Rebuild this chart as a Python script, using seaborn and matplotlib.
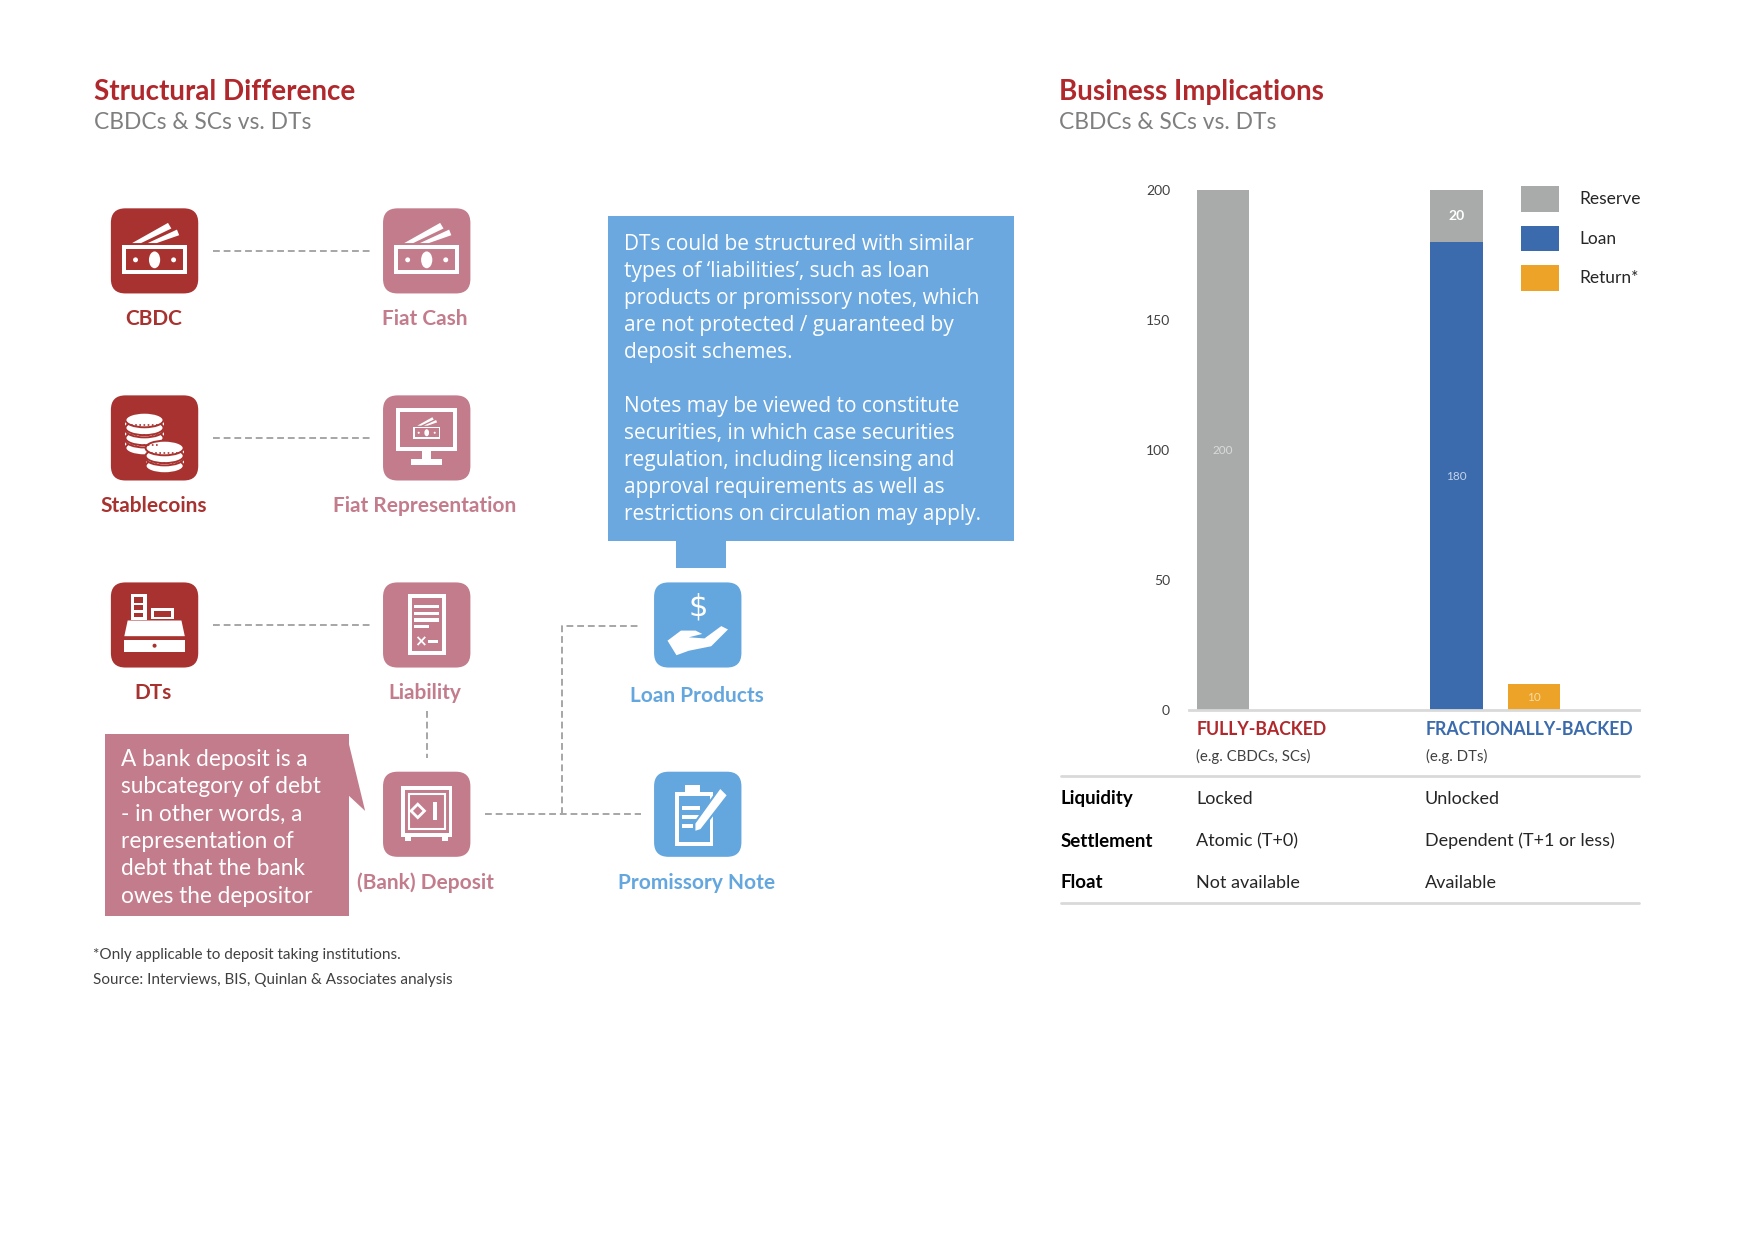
import numpy as np
import pandas as pd
import seaborn as sns
import matplotlib.pyplot as plt
from matplotlib.patches import FancyBboxPatch, Rectangle, Ellipse, Polygon, Circle, Patch

# ---- chart data ----
categories = ["FULLY-BACKED", "FRACTIONALLY-BACKED"]
category_notes = ["(e.g. CBDCs, SCs)", "(e.g. DTs)"]
reserve = [200, 20]
loan = [0, 180]
ret = [0, 10]
legend_labels = ["Reserve", "Loan", "Return*"]
y_ticks = [0, 50, 100, 150, 200]

row_names = ["Liquidity", "Settlement", "Float"]
fully_values = ["Locked", "Atomic (T+0)", "Not available"]
fraction_values = ["Unlocked", "Dependent (T+1 or less)", "Available"]

# ---- diagram text ----
left_nodes = ["CBDC", "Stablecoins", "DTs"]
mid_nodes = ["Fiat Cash", "Fiat Representation", "Liability"]
blue_note = ["DTs could be structured with similar",
             "types of \u2018liabilities\u2019, such as loan",
             "products or promissory notes, which",
             "are not protected / guaranteed by",
             "deposit schemes.",
             "",
             "Notes may be viewed to constitute",
             "securities, in which case securities",
             "regulation, including licensing and",
             "approval requirements as well as",
             "restrictions on circulation may apply."]
pink_note = ["A bank deposit is a", "subcategory of debt", "- in other words, a",
             "representation of", "debt that the bank", "owes the depositor"]
footnotes = ["*Only applicable to deposit taking institutions.",
             "Source: Interviews, BIS, Quinlan & Associates analysis"]

RED = "#A83230"
PINK = "#C27C8C"
BLUE = "#64A6DE"
GREY_BAR = "#A9ABAA"
LOAN_BLUE = "#3B6BAC"
ORANGE = "#ECA328"
DASH = "#A6A6A6"
DARK = "#262626"
FW, FH = 1567, 1108  # layout frame (figure = 1755 x 1241 px)

sns.set_style("white")
plt.rcParams["font.family"] = ["Lato", "DejaVu Sans"]

fig = plt.figure(figsize=(17.55, 12.41), dpi=100)
bg = fig.add_axes([0, 0, 1, 1])
bg.set_xlim(0, FW)
bg.set_ylim(FH, 0)
bg.axis("off")


def txt(x, y, s, **kw):
    kw.setdefault("va", "center")
    bg.text(x, y + 2, s, **kw)


def rbox(cx, cy, c):
    bg.add_patch(FancyBboxPatch((cx - 39, cy - 38), 78, 76,
                                boxstyle="round,pad=0,rounding_size=13", fc=c, ec="none"))


def frame(x0, y0, x1, y1, c, t=3.5):
    bg.add_patch(Rectangle((x0, y0), x1 - x0, y1 - y0, fc="white", ec="none"))
    bg.add_patch(Rectangle((x0 + t, y0 + t), x1 - x0 - 2 * t, y1 - y0 - 2 * t, fc=c, ec="none"))


def wbar(x, y, w, h):
    bg.add_patch(Rectangle((x, y), w, h, fc="white", ec="none"))


def banknote(cx, cy, c, s=1.0):
    P = lambda x, y: (cx + x * s, cy + y * s)
    bg.add_patch(Polygon([P(-20, -7), P(12, -25), P(15, -20), P(-12, -7)], fc="white", ec="none"))
    bg.add_patch(Polygon([P(-6, -7), P(20, -19), P(22, -14), P(2, -7)], fc="white", ec="none"))
    frame(cx - 29 * s, cy - 5 * s, cx + 29 * s, cy + 21 * s, c, 3.5 * s)
    bg.add_patch(Ellipse(P(0, 8), 10 * s, 15 * s, fc="white", ec="none"))
    bg.add_patch(Circle(P(-17, 8), 2.2 * s, fc="white", ec="none"))
    bg.add_patch(Circle(P(17, 8), 2.2 * s, fc="white", ec="none"))


def coins(cx, cy, c):
    for x, y in [(-9, 2), (-9, -7), (-9, -16), (9, 18), (9, 9)]:
        bg.add_patch(Rectangle((cx + x - 17, cy + y), 34, 7, fc="white", ec="none"))
        bg.add_patch(Ellipse((cx + x, cy + y + 7), 34, 13, fc="white", ec=c, lw=1.4))
        bg.add_patch(Ellipse((cx + x, cy + y), 34, 13, fc="white", ec=c, lw=1.4))
        bg.plot([cx + x - 12, cx + x + 12], [cy + y + 4.5] * 2, color=c, lw=1.2, ls=(0, (1, 1.5)))


def monitor(cx, cy, c):
    frame(cx - 27, cy - 27, cx + 27, cy + 12, c, 3.5)
    banknote(cx, cy - 8, c, 0.42)
    wbar(cx - 4, cy + 12, 8, 8)
    wbar(cx - 14, cy + 19, 28, 5)


def register(cx, cy, c):
    frame(cx - 21, cy - 28, cx - 7, cy - 4, c, 3)
    wbar(cx - 21, cy - 20, 14, 2.5)
    wbar(cx - 21, cy - 13, 14, 2.5)
    frame(cx - 3, cy - 15, cx + 17, cy - 5, c, 2.5)
    bg.add_patch(Polygon([(cx - 24, cy - 4), (cx + 24, cy - 4), (cx + 27, cy + 10),
                          (cx - 27, cy + 10)], fc="white", ec="none"))
    wbar(cx - 27, cy + 13, 54, 11)
    bg.add_patch(Circle((cx, cy + 18.5), 1.8, fc=c, ec="none"))


def document(cx, cy, c):
    frame(cx - 17, cy - 28, cx + 17, cy + 27, c, 3.5)
    for y in (-18, -12, -6):
        wbar(cx - 11, cy + y, 22, 3)
    wbar(cx - 11, cy, 13, 3)
    bg.text(cx - 6, cy + 15, "\u00d7", color="white", fontsize=11, fontweight="bold",
            ha="center", va="center", family="DejaVu Sans")
    wbar(cx + 1, cy + 13.5, 9, 3)


def safe(cx, cy, c):
    frame(cx - 23, cy - 25, cx + 23, cy + 20, c, 3.5)
    bg.add_patch(Rectangle((cx - 16, cy - 18), 32, 31, fill=False, ec="white", lw=1.5))
    bg.add_patch(Polygon([(cx - 8, cy - 9), (cx - 2, cy - 3), (cx - 8, cy + 3), (cx - 14, cy - 3)],
                         fill=False, ec="white", lw=2))
    wbar(cx + 6, cy - 11, 3, 16)
    wbar(cx - 19, cy + 20, 5, 4)
    wbar(cx + 14, cy + 20, 5, 4)


def hand(cx, cy, c):
    bg.text(cx, cy - 16, "$", color="white", fontsize=22, ha="center", va="center",
            family="DejaVu Sans")
    bg.add_patch(Polygon([(cx - 27, cy + 14), (cx - 15, cy + 5), (cx - 2, cy + 5), (cx + 4, cy + 8),
                          (cx - 8, cy + 11), (cx + 6, cy + 12), (cx + 21, cy + 1), (cx + 27, cy + 4),
                          (cx + 12, cy + 19), (cx - 8, cy + 23), (cx - 19, cy + 27)],
                         fc="white", ec="none"))


def clipboard(cx, cy, c):
    frame(cx - 20, cy - 20, cx + 14, cy + 28, c, 3.5)
    wbar(cx - 11, cy - 26, 13, 9)
    for y, w in [(-7, 16), (1, 16), (9, 10)]:
        wbar(cx - 14, cy + y, w, 3)
    bg.add_patch(Polygon([(cx + 20, cy - 24), (cx + 27, cy - 17), (cx + 3, cy + 14), (cx - 3, cy + 16),
                          (cx - 3, cy + 8)], fc="white", ec=c, lw=1.5))


def dashed(xs, ys):
    bg.plot(xs, ys, color=DASH, lw=1.4, dashes=(3.5, 2))


# ---- titles ----
txt(84, 80, "Structural Difference", color="#B0282C", fontsize=20, fontweight="bold")
txt(84, 107, "CBDCs & SCs vs. DTs", color="#7F7F7F", fontsize=16.4)
txt(946, 80, "Business Implications", color="#B0282C", fontsize=20, fontweight="bold")
txt(946, 107, "CBDCs & SCs vs. DTs", color="#7F7F7F", fontsize=16.4)

# ---- diagram ----
rows_y = [224, 391, 558]
for y in rows_y:
    dashed([190, 330], [y, y])
dashed([381, 381], [635, 677])
dashed([433, 572], [727, 727])
dashed([502, 502, 572], [727, 559, 559])

label_size = 15
left_icons = [banknote, coins, register]
mid_icons = [banknote, monitor, document]
for y, name, draw in zip(rows_y, left_nodes, left_icons):
    rbox(138, y, RED)
    draw(138, y, RED)
    txt(137, y + 59, name, color=RED, fontsize=label_size, fontweight="bold", ha="center")
for y, name, draw in zip(rows_y, mid_nodes, mid_icons):
    rbox(381, y, PINK)
    draw(381, y, PINK)
    txt(379, y + 59, name, color=PINK, fontsize=label_size, fontweight="bold", ha="center")

rbox(381, 727, PINK)
safe(381, 727, PINK)
txt(380, 786, "(Bank) Deposit", color=PINK, fontsize=label_size, fontweight="bold", ha="center")
rbox(623, 558, BLUE)
hand(623, 558, BLUE)
txt(622, 619, "Loan Products", color=BLUE, fontsize=label_size, fontweight="bold", ha="center")
rbox(623, 727, BLUE)
clipboard(623, 727, BLUE)
txt(622, 786, "Promissory Note", color=BLUE, fontsize=label_size, fontweight="bold", ha="center")

# blue callout
bg.add_patch(Rectangle((543, 193), 362, 290, fc="#6AA8DF", ec="none"))
bg.add_patch(Rectangle((604, 483), 44, 24, fc="#6AA8DF", ec="none"))
for i, line in enumerate(blue_note):
    txt(557, 216 + i * 24.1, line, color="white", fontsize=15, family=["Open Sans", "DejaVu Sans"])

# pink callout
bg.add_patch(Rectangle((94, 655), 218, 163, fc=PINK, ec="none"))
bg.add_patch(Polygon([(311, 662), (326, 724), (311, 710)], fc=PINK, ec="none"))
for i, line in enumerate(pink_note):
    txt(108, 676 + i * 24.4, line, color="white", fontsize=16.3)

for i, line in enumerate(footnotes):
    txt(83, 851 + i * 22, line, color="#404040", fontsize=11)

# ---- bar chart ----
W = 0.667
ax = fig.add_axes([1062 / FW, 1 - 634 / FH, 401 / FW, (634 - 170) / FH])
ax.patch.set_alpha(0)
df = pd.DataFrame({
    "category": categories * 2,
    "slot": ["stack"] * 2 + ["return"] * 2,
    "total": [r + l for r, l in zip(reserve, loan)] + [0] * 2,
    "loan": loan + [0] * 2,
    "ret": [0] * 2 + ret,
})
common = dict(data=df, x="category", order=categories, hue="slot", hue_order=["stack", "return"],
              dodge=True, width=W, gap=0.33, errorbar=None, saturation=1, legend=False,
              linewidth=0, ax=ax)
sns.barplot(y="total", palette={"stack": GREY_BAR, "return": GREY_BAR}, **common)
sns.barplot(y="loan", palette={"stack": LOAN_BLUE, "return": LOAN_BLUE}, **common)
sns.barplot(y="ret", palette={"stack": ORANGE, "return": ORANGE}, **common)

off = W / 4
ax.text(0 - off, reserve[0] / 2, str(reserve[0]), color="#DADADA", fontsize=8.5, ha="center", va="center")
ax.text(1 - off, loan[1] / 2, str(loan[1]), color="#C5D3EA", fontsize=8.5, ha="center", va="center")
ax.text(1 - off, loan[1] + reserve[1] / 2, str(reserve[1]), color="white", fontsize=10,
        fontweight="bold", ha="center", va="center")
ax.text(1 + off, ret[1] / 2, str(ret[1]), color="#F8DCA8", fontsize=8.5, ha="center", va="center")

ax.set_xlim(-0.3106, 1.6127)
ax.set_ylim(0, 200)
ax.set_yticks(y_ticks)
ax.set_xticks([])
ax.set_xlabel("")
ax.set_ylabel("")
ax.tick_params(axis="y", length=0, pad=14, labelsize=10, labelcolor="#404040")
for side in ["left", "top", "right"]:
    ax.spines[side].set_visible(False)
ax.spines["bottom"].set_color("#D9D9D9")
ax.spines["bottom"].set_linewidth(2)

handles = [Patch(fc=c, ec="none") for c in [GREY_BAR, LOAN_BLUE, ORANGE]]
fig.legend(handles, legend_labels, loc="upper left", bbox_to_anchor=(1358 / FW, 1 - 166 / FH),
           frameon=False, fontsize=12.5, handlelength=2.2, handleheight=1.9, labelspacing=0.8,
           handletextpad=1.15, borderpad=0, borderaxespad=0, labelcolor=DARK)

# category labels and comparison table
txt(1068, 649, categories[0], color="#B0282C", fontsize=12.7, fontweight="bold")
txt(1273, 649, categories[1], color=LOAN_BLUE, fontsize=12.7, fontweight="bold")
txt(1068, 673, category_notes[0], color="#404040", fontsize=10.8)
txt(1273, 673, category_notes[1], color="#404040", fontsize=10.8)

bg.plot([947, 1463], [693, 693], color="#D9D9D9", lw=2)
bg.plot([947, 1463], [806, 806], color="#D9D9D9", lw=2)
for y, name, a, b in zip([711, 749, 786], row_names, fully_values, fraction_values):
    txt(947, y, name, color="black", fontsize=13.5, fontweight="bold")
    txt(1068, y, a, color=DARK, fontsize=13)
    txt(1272, y, b, color=DARK, fontsize=13)

fig.savefig("out.png", dpi=100)
